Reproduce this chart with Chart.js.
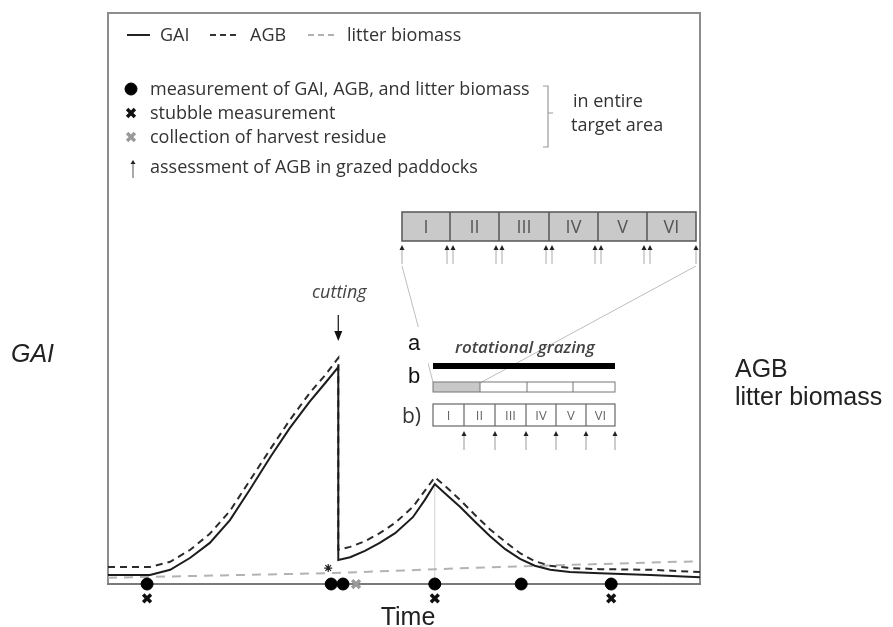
<!DOCTYPE html>
<html>
<head>
<meta charset="utf-8">
<script src="https://cdn.jsdelivr.net/npm/chart.js@4.4.1/dist/chart.umd.min.js"></script>
<style>
  html, body { margin: 0; padding: 0; background: #fff; }
  #wrap { width: 893px; height: 627px; }
</style>
</head>
<body>
<div id="wrap"><canvas id="chart" width="893" height="627"></canvas></div>
<script>
// Schematic time course (arbitrary units)
const timePoints = [0, 7.1, 10.5, 13.9, 17.2, 20.6, 24.0, 27.4, 30.7, 34.1, 36.7, 38.9,
  38.9, 40.9, 43.4, 45.9, 48.5, 51.5, 53.5, 55.2,
  56.9, 59.5, 62.0, 64.5, 67.1, 69.6, 72.1, 74.7, 78.0, 83.1, 91.6, 100];
const gaiValues = [1.6, 1.6, 2.5, 4.6, 7.2, 11.2, 16.6, 22.2, 27.3, 32.0, 35.2, 38.0,
  4.2, 4.7, 5.8, 7.2, 8.9, 11.7, 14.7, 17.5,
  15.9, 13.5, 10.9, 8.4, 6.1, 4.4, 3.2, 2.5, 2.1, 1.9, 1.6, 1.2];
const agbValues = [3.0, 3.0, 3.9, 6.0, 8.8, 12.8, 18.2, 23.6, 28.7, 33.5, 36.6, 39.6,
  6.0, 6.5, 7.5, 8.9, 10.7, 13.5, 16.3, 18.7,
  17.2, 14.7, 12.1, 9.6, 7.4, 5.4, 4.0, 3.2, 2.8, 2.6, 2.5, 2.1];
const litterTime = [0, 37.5, 66.2, 100];
const litterValues = [1.1, 1.9, 3.0, 4.0];

const measureTimes = [6.6, 37.7, 39.7, 55.2, 69.8, 85.0];
const stubbleTimes = [6.6, 55.2, 85.0];
const residueTimes = [41.9];
const starTimes = [37.2];
const starValues = [2.8];
const grazingPeak = { t: 55.2, v: 17.5 };
const cuttingTime = 38.9;
const stubbleLevel = -2.5;

const paddocks = ['I', 'II', 'III', 'IV', 'V', 'VI'];

const ink = '#333';
const sans = '"Open Sans", sans-serif';
const arial = '"Liberation Sans", Arial, sans-serif';

function pts(xs, ys) { return xs.map((x, i) => ({ x, y: ys[i] })); }
function at(xs, y) { return xs.map(x => ({ x, y })); }

function txt(ctx, s, x, y, font, color, align) {
  ctx.font = font;
  ctx.fillStyle = color;
  ctx.textAlign = align || 'left';
  ctx.textBaseline = 'alphabetic';
  ctx.fillText(s, x, y);
}

function seg(ctx, x1, y1, x2, y2, color, w, dash) {
  ctx.save();
  ctx.strokeStyle = color;
  ctx.lineWidth = w;
  ctx.setLineDash(dash || []);
  ctx.beginPath();
  ctx.moveTo(x1, y1);
  ctx.lineTo(x2, y2);
  ctx.stroke();
  ctx.restore();
}

function upArrow(ctx, x, yTop, yBot, hw, hh, headColor, shaftColor) {
  seg(ctx, x, yTop + hh - 1, x, yBot, shaftColor, 1);
  ctx.fillStyle = headColor;
  ctx.beginPath();
  ctx.moveTo(x, yTop);
  ctx.lineTo(x - hw, yTop + hh);
  ctx.lineTo(x + hw, yTop + hh);
  ctx.closePath();
  ctx.fill();
}

function marker(ctx, style, r, bw, color, x, y) {
  ctx.save();
  ctx.fillStyle = color;
  ctx.strokeStyle = color;
  ctx.lineWidth = bw;
  Chart.helpers.drawPoint(ctx, { pointStyle: style, radius: r, borderWidth: bw }, x, y);
  ctx.restore();
}

const schemePlugin = {
  id: 'scheme',
  beforeDatasetsDraw(chart) {
    const { ctx, chartArea: a, scales } = chart;
    const base = scales.y.getPixelForValue(0);
    ctx.save();
    seg(ctx, a.left, base, a.left, a.top, '#8d8d8d', 2);
    seg(ctx, a.left - 1, a.top, a.right + 1, a.top, '#8d8d8d', 2);
    seg(ctx, a.right, a.top, a.right, base, '#8d8d8d', 2);
    seg(ctx, a.left - 1, base, a.right + 1, base, '#7a7a7a', 2);
    ctx.restore();
  },
  afterDraw(chart) {
    const { ctx, scales } = chart;
    const X = scales.x;
    ctx.save();

    // legend, first row
    seg(ctx, 127, 35, 150, 35, '#222', 2);
    txt(ctx, 'GAI', 160, 41, '18px ' + sans, ink);
    seg(ctx, 210, 35, 239, 35, '#333', 2, [6, 4]);
    txt(ctx, 'AGB', 250, 41, '18px ' + sans, ink);
    seg(ctx, 308, 35, 337, 35, '#b0b0b0', 2, [6, 4]);
    txt(ctx, 'litter biomass', 347, 41, '18px ' + sans, ink);

    // legend, symbols
    marker(ctx, 'circle', 6, 1, '#000', 131, 89);
    txt(ctx, 'measurement of GAI, AGB, and litter biomass', 150, 95, '18px ' + sans, ink);
    marker(ctx, 'crossRot', 5.5, 3.5, '#111', 131, 113);
    txt(ctx, 'stubble measurement', 150, 119, '18px ' + sans, ink);
    marker(ctx, 'crossRot', 5.5, 3.5, '#9a9a9a', 131, 137);
    txt(ctx, 'collection of harvest residue', 150, 143, '18px ' + sans, ink);
    upArrow(ctx, 133, 160, 178, 2.5, 4, '#222', '#555');
    txt(ctx, 'assessment of AGB in grazed paddocks', 150, 173, '18px ' + sans, ink);

    // bracket
    ctx.strokeStyle = '#9a9a9a';
    ctx.lineWidth = 1.2;
    ctx.beginPath();
    ctx.moveTo(543, 86); ctx.lineTo(548, 86); ctx.lineTo(548, 147); ctx.lineTo(543, 147);
    ctx.moveTo(548, 113); ctx.lineTo(553, 113);
    ctx.stroke();
    txt(ctx, 'in entire', 573, 107, '18px ' + sans, ink);
    txt(ctx, 'target area', 571, 131, '18px ' + sans, ink);

    // paddock strip (enlarged)
    const top = [402, 450, 499, 549, 598, 647, 696];
    ctx.fillStyle = '#c9c9c9';
    ctx.fillRect(top[0], 212, top[6] - top[0], 29);
    ctx.strokeStyle = '#555';
    ctx.lineWidth = 1.5;
    ctx.strokeRect(top[0], 212, top[6] - top[0], 29);
    for (let i = 1; i < 6; i++) seg(ctx, top[i], 212, top[i], 241, '#555', 1.5);
    paddocks.forEach((p, i) => txt(ctx, p, (top[i] + top[i + 1]) / 2, 233, '18px ' + sans, '#555', 'center'));
    top.forEach((x, i) => {
      if (i === 0 || i === 6) upArrow(ctx, x, 245, 264, 2.5, 5, '#222', '#aaa');
      else { upArrow(ctx, x - 3, 245, 264, 2.5, 5, '#222', '#aaa'); upArrow(ctx, x + 3, 245, 264, 2.5, 5, '#222', '#aaa'); }
    });

    // zoom lines
    seg(ctx, 402, 266, 433, 382, '#bdbdbd', 1);
    seg(ctx, 696, 266, 480, 383, '#bdbdbd', 1);

    // white patch with a / b
    ctx.fillStyle = '#fff';
    ctx.fillRect(400, 327, 28, 68);
    txt(ctx, 'a', 408, 350, '22px ' + arial, '#111');
    txt(ctx, 'b', 408, 383, '22px ' + arial, '#111');

    // rotational grazing
    txt(ctx, 'rotational grazing', 525, 353, 'italic 600 17px ' + sans, '#444', 'center');
    ctx.fillStyle = '#000';
    ctx.fillRect(433, 363, 182, 6);
    const small = [433, 480, 527, 573, 615];
    ctx.fillStyle = '#c8c8c8';
    ctx.fillRect(433, 382, 47, 10);
    ctx.strokeStyle = '#777';
    ctx.lineWidth = 1;
    ctx.strokeRect(433, 382, 182, 10);
    for (let i = 1; i < 4; i++) seg(ctx, small[i], 382, small[i], 392, '#777', 1);

    // b) paddock row
    txt(ctx, 'b)', 402, 423, '21px ' + sans, '#333');
    const row = [433, 464, 495, 526, 556, 586, 615];
    ctx.strokeStyle = '#666';
    ctx.lineWidth = 1.2;
    ctx.strokeRect(433, 404, 182, 22);
    for (let i = 1; i < 6; i++) seg(ctx, row[i], 404, row[i], 426, '#666', 1.2);
    paddocks.forEach((p, i) => txt(ctx, p, (row[i] + row[i + 1]) / 2, 420, '13px ' + sans, '#666', 'center'));
    row.slice(1).forEach(x => upArrow(ctx, x, 431, 450, 2.5, 5, '#222', '#999'));

    // cutting
    const cx = X.getPixelForValue(cuttingTime);
    txt(ctx, 'cutting', cx + 1, 298, 'italic 18px ' + sans, '#444', 'center');
    seg(ctx, cx, 315, cx, 332, '#222', 1.3);
    ctx.fillStyle = '#111';
    ctx.beginPath();
    ctx.moveTo(cx - 4, 331); ctx.lineTo(cx + 4, 331); ctx.lineTo(cx, 341); ctx.closePath();
    ctx.fill();

    // axis titles
    txt(ctx, 'GAI', 11, 362, 'italic 25px ' + arial, '#222');
    txt(ctx, 'AGB', 735, 377, '25px ' + arial, '#222');
    txt(ctx, 'litter biomass', 735, 405, '25px ' + arial, '#222');
    txt(ctx, 'Time', 408, 625, '25px ' + arial, '#222', 'center');
    ctx.restore();
  }
};

new Chart(document.getElementById('chart'), {
  type: 'line',
  data: {
    // markers first so they are painted on top of the curves
    datasets: [
      { data: at(measureTimes, 0), showLine: false, pointRadius: 6, pointBackgroundColor: '#000', pointBorderColor: '#000', clip: false },
      { data: at(stubbleTimes, stubbleLevel), showLine: false, pointStyle: 'crossRot', pointRadius: 5.5, pointBorderWidth: 3.5, pointBorderColor: '#111', clip: false },
      { data: at(residueTimes, 0), showLine: false, pointStyle: 'crossRot', pointRadius: 5.5, pointBorderWidth: 3.5, pointBorderColor: '#9a9a9a', clip: false },
      { data: pts(starTimes, starValues), showLine: false, pointStyle: 'star', pointRadius: 4, pointBorderWidth: 1.2, pointBorderColor: '#222', clip: false },
      { data: pts(timePoints, gaiValues), borderColor: '#1c1c1c', borderWidth: 2, pointRadius: 0, tension: 0 },
      { data: pts(timePoints, agbValues), borderColor: '#2b2b2b', borderWidth: 2, borderDash: [7, 5], pointRadius: 0, tension: 0 },
      { data: pts(litterTime, litterValues), borderColor: '#b3b3b3', borderWidth: 2, borderDash: [9, 7], pointRadius: 0, tension: 0 },
      { data: [{ x: grazingPeak.t, y: 0 }, { x: grazingPeak.t, y: grazingPeak.v }], borderColor: '#d2d2d2', borderWidth: 1, pointRadius: 0 }
    ]
  },
  options: {
    responsive: false,
    animation: false,
    layout: { padding: { left: 108, right: 193, top: 13, bottom: 23 } },
    scales: {
      x: { type: 'linear', min: 0, max: 100, display: false },
      y: { min: -3.5, max: 100, display: false }
    },
    plugins: { legend: { display: false }, tooltip: { enabled: false } }
  },
  plugins: [schemePlugin]
});
</script>
</body>
</html>
